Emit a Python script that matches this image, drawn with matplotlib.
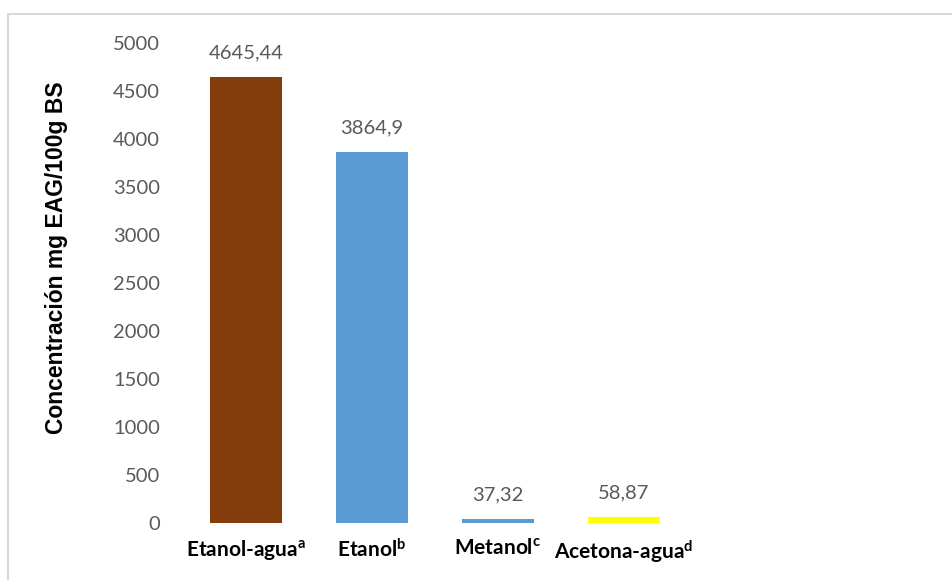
import matplotlib
matplotlib.use("Agg")
from matplotlib import pyplot as plt
from matplotlib.patches import Rectangle

# data
solvents = ["Etanol-agua", "Etanol", "Metanol", "Acetona-agua"]
letters = ["a", "b", "c", "d"]
values = [4645.44, 3864.9, 37.32, 58.87]
bar_colors = ["#843C0C", "#5B9BD5", "#5B9BD5", "#FFFF00"]
y_ticks = list(range(0, 5001, 500))

grey = "#595959"

plt.rcParams["font.family"] = ["Lato", "DejaVu Sans"]
plt.rcParams["mathtext.fontset"] = "custom"
plt.rcParams["mathtext.rm"] = "Lato:bold"
plt.rcParams["mathtext.it"] = "Lato:bold"
plt.rcParams["mathtext.bf"] = "Lato:bold"

W, H = 952, 580
fig = plt.figure(figsize=(W / 100, H / 100), dpi=100)

# plot area in pixels: x 183..939, y 43..523
ax = fig.add_axes([183 / W, (H - 523) / H, 756 / W, 480 / H])

x = range(len(values))
bars = ax.bar(x, values, width=0.571, color=bar_colors, zorder=2)

for xi, v in zip(x, values):
    label = f"{v:g}".replace(".", ",")
    ax.annotate(label, xy=(xi, v), xytext=(0, 13.5), textcoords="offset points",
                ha="center", va="baseline", fontsize=14.5, color=grey)

ax.set_xlim(-0.5, 5.5)
ax.set_ylim(0, 5000)
ax.set_yticks(y_ticks)
ax.set_yticklabels([str(t) for t in y_ticks], fontsize=14.5, color=grey)
ax.set_xticks(list(x))
ax.set_xticklabels([f"{s}$^{{\\mathrm{{{l}}}}}$" for s, l in zip(solvents, letters)],
                   fontsize=15, fontweight="bold", color="black")
ax.tick_params(axis="y", length=0, pad=16.5)
ax.tick_params(axis="x", length=0, pad=11)
for side in ["top", "right", "bottom", "left"]:
    ax.spines[side].set_visible(False)

fig.text(57 / W, (H - 258) / H, "Concentración mg EAG/100g BS", rotation=90,
         ha="center", va="center", fontsize=16.5, fontweight="bold",
         family="Liberation Sans")

# light chart border (cropped on the right and bottom)
fig.add_artist(Rectangle((8 / W, -0.1), 2, (H - 14) / H + 0.1,
                         transform=fig.transFigure, fill=False,
                         edgecolor="#D9D9D9", lw=1.5))

fig.savefig("out.png", dpi=100)
